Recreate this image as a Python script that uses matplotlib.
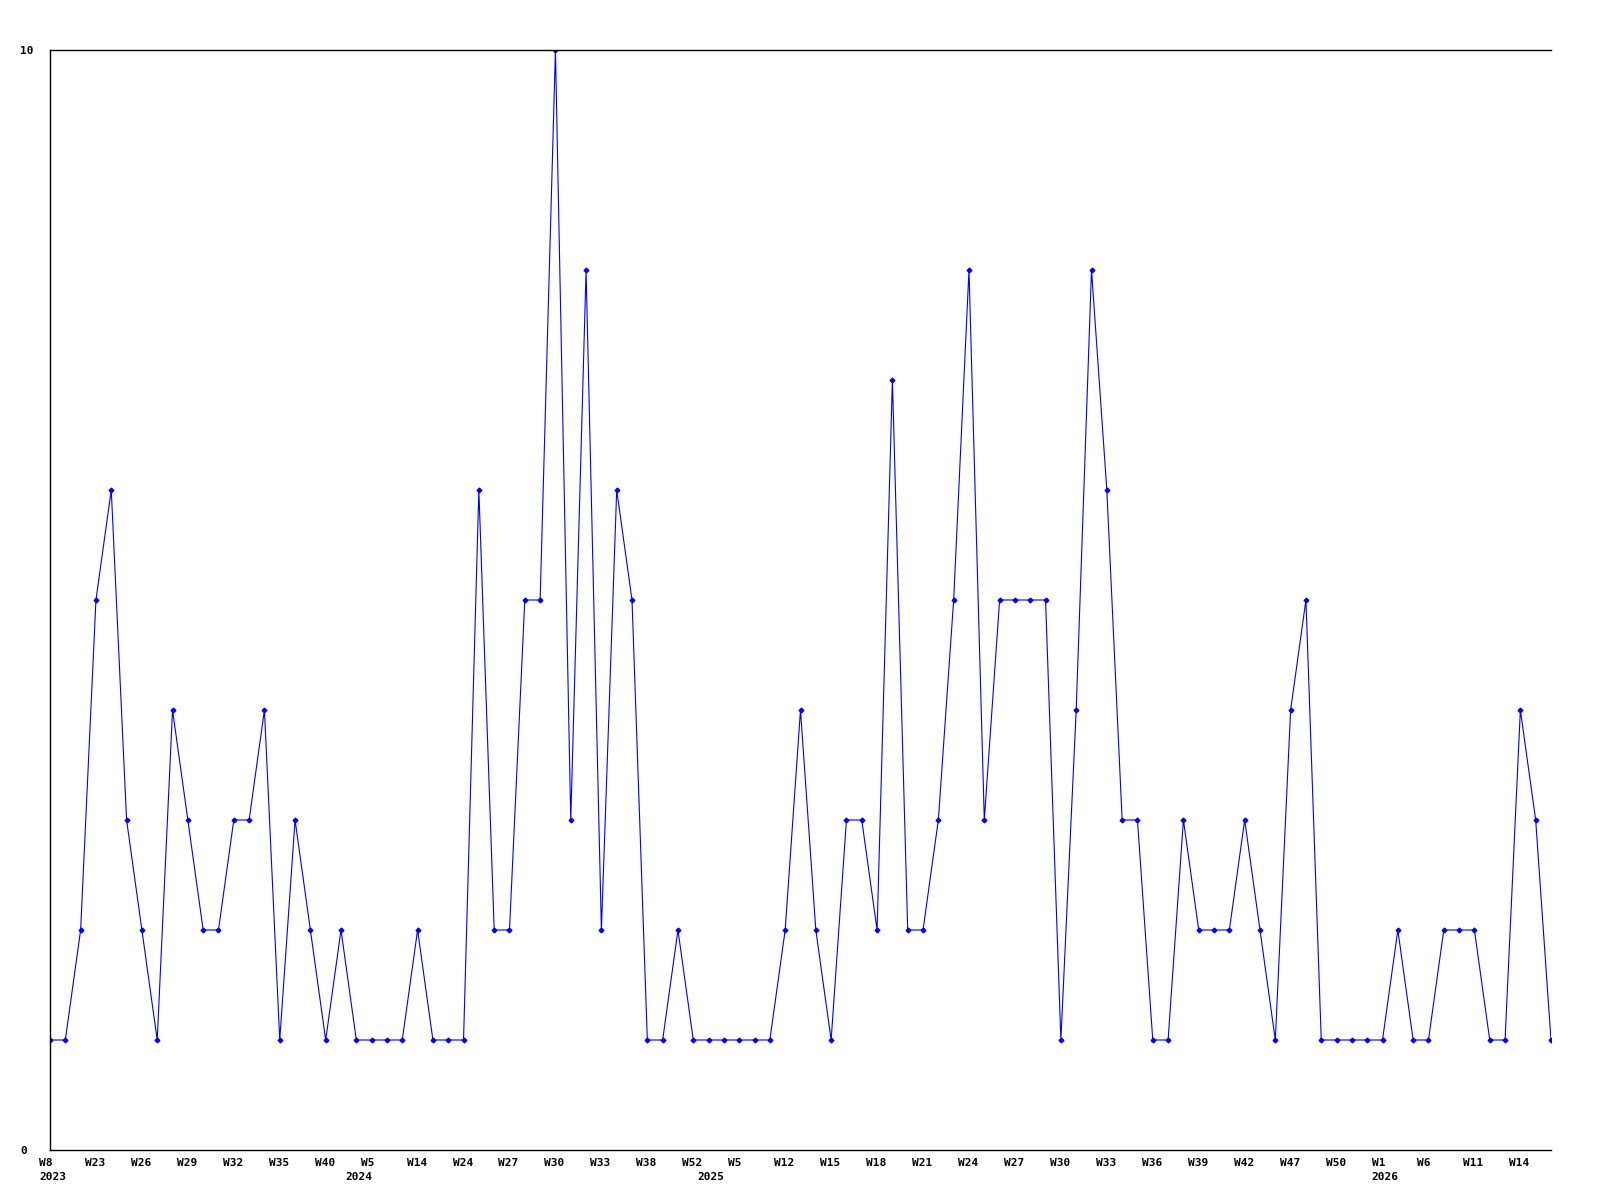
import matplotlib
matplotlib.use("Agg")
import matplotlib.pyplot as plt
from matplotlib.transforms import ScaledTranslation

# weekly counts, one value per week point
counts = [1, 1, 2, 5, 6, 3, 2, 1, 4, 3,
          2, 2, 3, 3, 4, 1, 3, 2, 1, 2,
          1, 1, 1, 1, 2, 1, 1, 1, 6, 2,
          2, 5, 5, 10, 3, 8, 2, 6, 5, 1,
          1, 2, 1, 1, 1, 1, 1, 1, 2, 4,
          2, 1, 3, 3, 2, 7, 2, 2, 3, 5,
          8, 3, 5, 5, 5, 5, 1, 4, 8, 6,
          3, 3, 1, 1, 3, 2, 2, 2, 3, 2,
          1, 4, 5, 1, 1, 1, 1, 1, 2, 1,
          1, 2, 2, 2, 1, 1, 4, 3, 1]

# every third point gets a week label
week_labels = ["W8", "W23", "W26", "W29", "W32", "W35", "W40", "W5", "W14",
               "W24", "W27", "W30", "W33", "W38", "W52", "W5", "W12", "W15",
               "W18", "W21", "W24", "W27", "W30", "W33", "W36", "W39", "W42",
               "W47", "W50", "W1", "W6", "W11", "W14"]

# where a new year starts (point index)
year_pos = [0, 20, 43, 87]
year_labels = ["2023", "2024", "2025", "2026"]

font = dict(family="DejaVu Sans Mono", fontweight="bold", fontsize=8)

fig = plt.figure(figsize=(16, 12), dpi=100)
ax = fig.add_axes([50 / 1600, 1 - 1150 / 1200, 1501 / 1600, 1100 / 1200])

x = list(range(len(counts)))
ax.plot(x, counts, color="#0000ff", linewidth=0.8, marker="D",
        markersize=2.4)

ax.set_xlim(0, len(counts) - 1)
ax.set_ylim(0, 10)

ax.spines["right"].set_visible(False)
for s in ["left", "top", "bottom"]:
    ax.spines[s].set_linewidth(1.0)
    ax.spines[s].set_color("black")

ax.set_yticks([0, 10])
ax.set_yticklabels(["0", "10"], ha="left", **font)
ax.tick_params(axis="y", length=0, pad=30 * 0.72)

ax.set_xticks(range(0, 3 * len(week_labels), 3))
ax.set_xticklabels(week_labels, ha="left", va="top", **font)
ax.tick_params(axis="x", length=0, pad=8 * 0.72)
off = ScaledTranslation(-11 / 100, 0, fig.dpi_scale_trans)
for lab in ax.get_xticklabels():
    lab.set_transform(lab.get_transform() + off)

ytrans = ax.get_xaxis_transform() + ScaledTranslation(-11 / 100, -22.5 / 100, fig.dpi_scale_trans)
for p, yl in zip(year_pos, year_labels):
    ax.text(p, 0, yl, transform=ytrans, ha="left", va="top", **font)

fig.savefig("out.png", dpi=100)
